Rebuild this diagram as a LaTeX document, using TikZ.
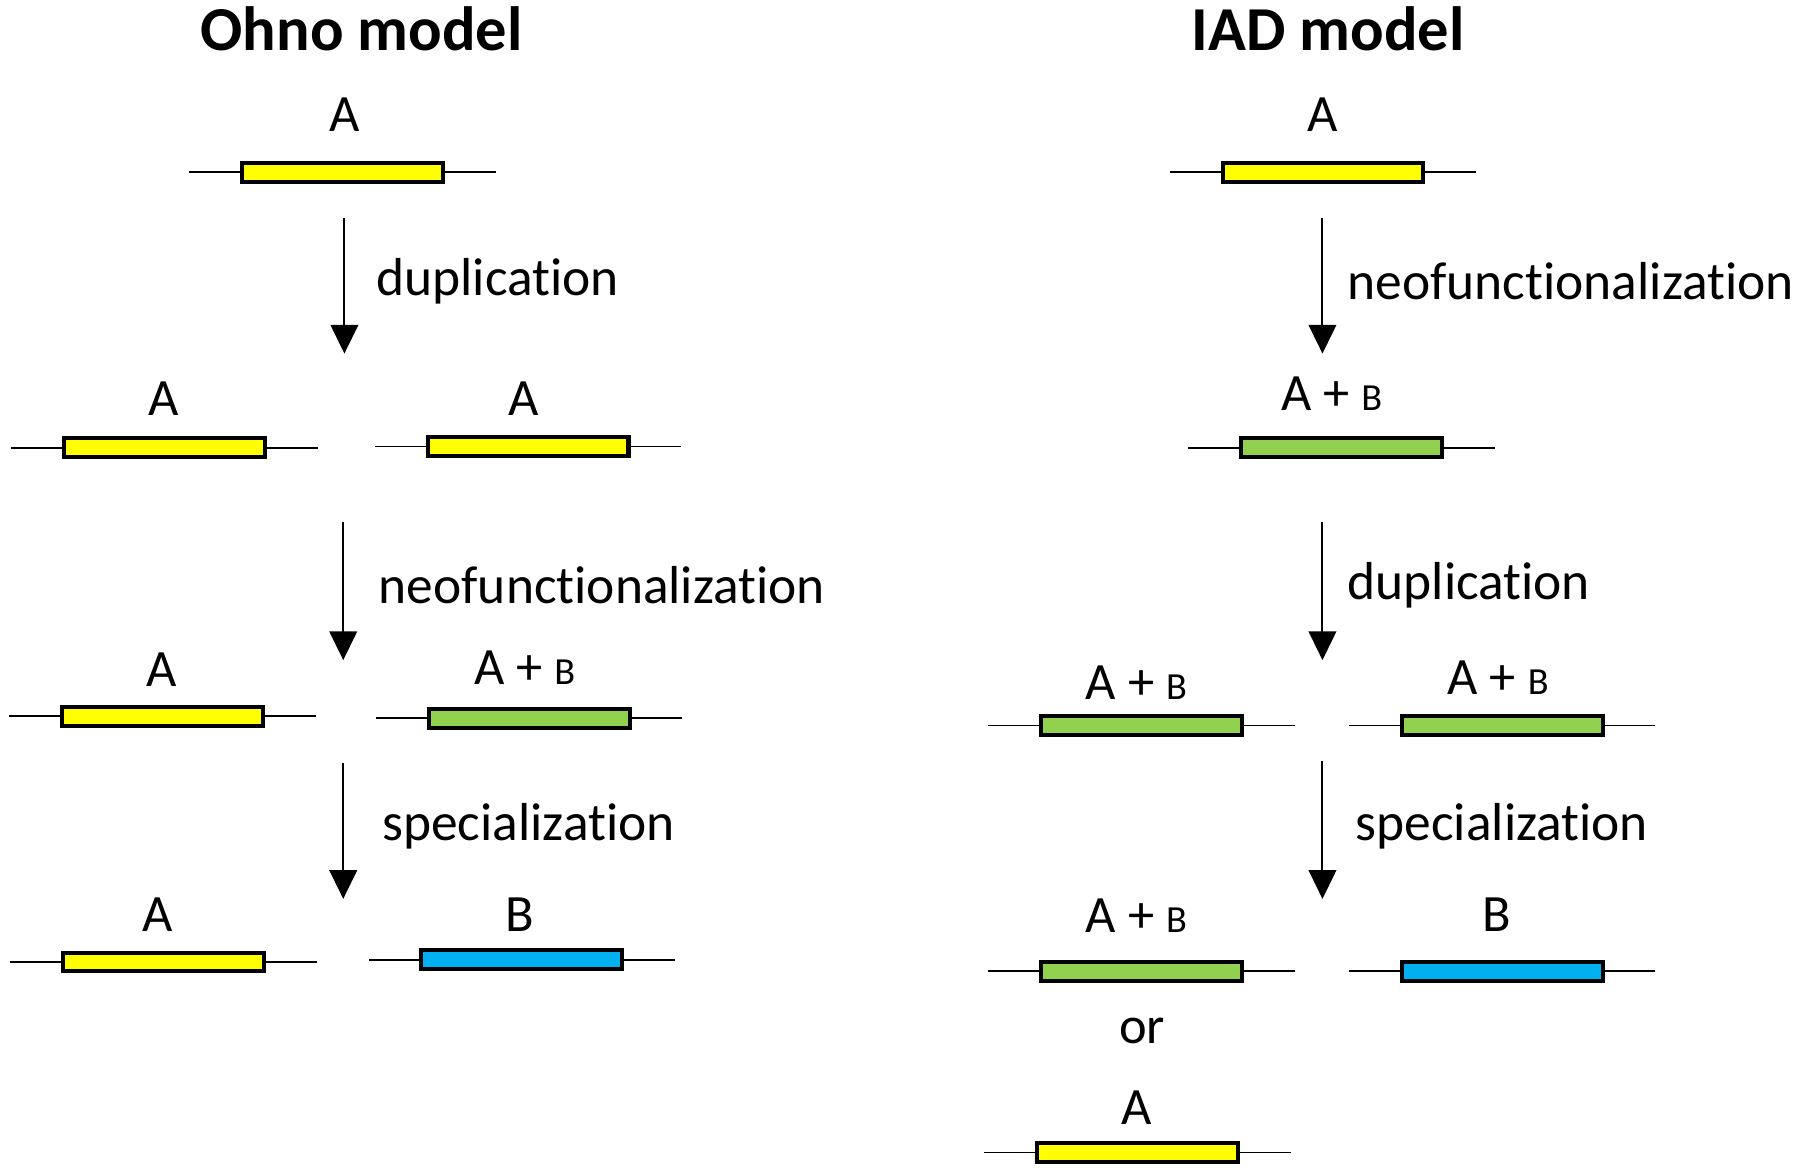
\documentclass[tikz,border=0pt]{standalone}
\usepackage{fontspec}
\setmainfont{Carlito}[RawFeature={-liga;-clig;-calt;-dlig}]
\usetikzlibrary{arrows.meta}
\definecolor{geneyellow}{RGB}{255,255,0}
\definecolor{genegreen}{RGB}{146,208,80}
\definecolor{geneblue}{RGB}{0,176,240}
\newcommand{\minorB}{{\fontsize{19}{22}\selectfont B}}
\begin{document}
\begin{tikzpicture}[x=0.02cm,y=-0.02cm,inner sep=0pt,outer sep=0pt,
gene/.style={draw,rectangle,line width=2pt,minimum width=3.5cm,minimum height=0.33cm},
stub/.style={line width=0.9pt},
flow/.style={line width=1pt,-{Triangle[width=0.48cm,length=0.5cm]}},
glabel/.style={font=\fontsize{26}{30}\selectfont},
steplabel/.style={font=\fontsize{26.5}{30}\selectfont,anchor=west},
title/.style={font=\fontsize{31}{36}\selectfont\bfseries}]
\useasboundingbox (0,0) rectangle (1568,1022);
% Ohno model
\draw (315,25) node[title] (ohno) {Ohno model};
\draw (298.5,150) node[gene,fill=geneyellow] (o1) {};
\draw (143.5,390) node[gene,fill=geneyellow] (o2a) {};
\draw (460,389) node[gene,fill=geneyellow] (o2b) {};
\draw (141.5,624) node[gene,fill=geneyellow] (o3a) {};
\draw (461,625.5) node[gene,fill=genegreen] (o3b) {};
\draw (142.5,838) node[gene,fill=geneyellow] (o4a) {};
\draw (454.5,836) node[gene,fill=geneblue] (o4b) {};
\foreach \g in {o1,o2a,o2b,o3a,o3b,o4a,o4b} {
  \draw[stub] (\g.west) -- ++(-46,0);
  \draw[stub] (\g.east) -- ++(46,0);
}
\draw (300,100) node[glabel] (lo1) {A};
\draw (143,347) node[glabel] (lo2a) {A};
\draw (456,347) node[glabel] (lo2b) {A};
\draw (141,583) node[glabel] (lo3a) {A};
\draw (457,582) node[glabel] (lo3b) {A + \minorB};
\draw (137,797) node[glabel] (lo4a) {A};
\draw (453,797) node[glabel] (lo4b) {B};
\coordinate (oa1s) at (300,190);
\coordinate (oa1e) at (300,308);
\coordinate (oa2s) at (299,455);
\coordinate (oa2e) at (299,575);
\coordinate (oa3s) at (299,665);
\coordinate (oa3e) at (299,783);
\draw[flow] (oa1s) -- (oa1e);
\draw[flow] (oa2s) -- (oa2e);
\draw[flow] (oa3s) -- (oa3e);
\draw (328,245) node[steplabel] (oa1lab) {duplication};
\draw (330,510) node[steplabel] (oa2lab) {neofunctionalization};
\draw (333,720) node[steplabel] (oa3lab) {specialization};
% IAD model
\draw (1157,25) node[title] (iad) {IAD model};
\draw (1152.5,150) node[gene,fill=geneyellow] (i1) {};
\draw (1168.5,390) node[gene,fill=genegreen] (i2) {};
\draw (994.5,632) node[gene,fill=genegreen] (i3a) {};
\draw (1308.5,632) node[gene,fill=genegreen] (i3b) {};
\draw (994.5,846) node[gene,fill=genegreen] (i4a) {};
\draw (1308.5,846) node[gene,fill=geneblue] (i4b) {};
\draw (991,1004) node[gene,fill=geneyellow] (i5) {};
\foreach \g in {i1,i2,i3a,i3b,i4a,i4b,i5} {
  \draw[stub] (\g.west) -- ++(-46,0);
  \draw[stub] (\g.east) -- ++(46,0);
}
\draw (1152,100) node[glabel] (li1) {A};
\draw (1160,343) node[glabel] (li2) {A + \minorB};
\draw (990,595) node[glabel] (li3a) {A + \minorB};
\draw (1305,590) node[glabel] (li3b) {A + \minorB};
\draw (990,798) node[glabel] (li4a) {A + \minorB};
\draw (1304,797) node[glabel] (li4b) {B};
\draw (995,898) node[glabel] (lor) {or};
\draw (990,965) node[glabel] (li5) {A};
\coordinate (ia1s) at (1152,190);
\coordinate (ia1e) at (1152,308);
\coordinate (ia2s) at (1152,455);
\coordinate (ia2e) at (1152,575);
\coordinate (ia3s) at (1152,663);
\coordinate (ia3e) at (1152,783);
\draw[flow] (ia1s) -- (ia1e);
\draw[flow] (ia2s) -- (ia2e);
\draw[flow] (ia3s) -- (ia3e);
\draw (1174,245) node[steplabel] (ia1lab) {neofunctionalization};
\draw (1174,510) node[steplabel] (ia2lab) {duplication};
\draw (1181,720) node[steplabel] (ia3lab) {specialization};
\end{tikzpicture}
\end{document}
